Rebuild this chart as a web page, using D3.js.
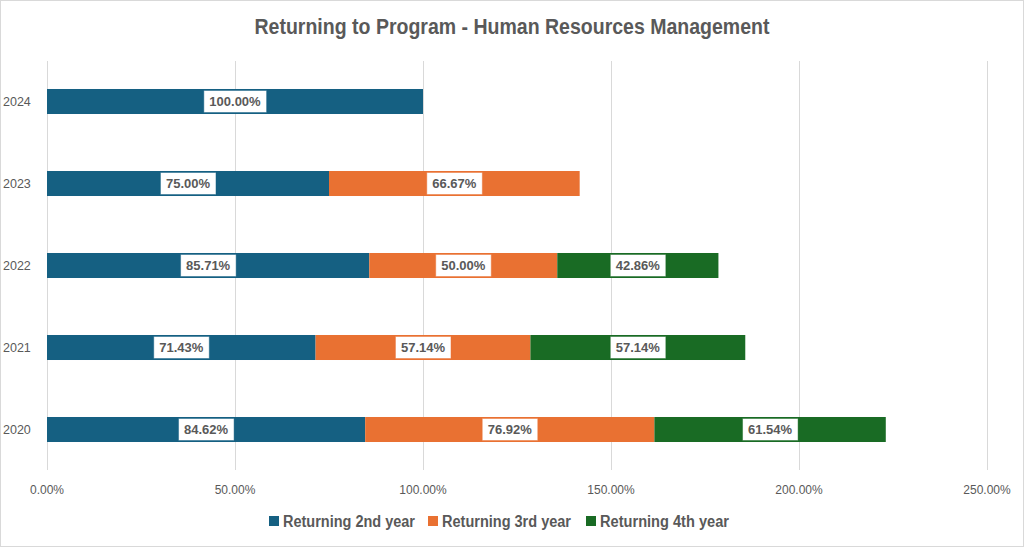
<!DOCTYPE html>
<html>
<head>
<meta charset="utf-8">
<script src="https://cdn.jsdelivr.net/npm/d3@7"></script>
<style>
  body { margin: 0; background: #fff; }
  svg { display: block; }
</style>
</head>
<body>
<div id="chart"></div>
<script>
// data
var years = ["2024", "2023", "2022", "2021", "2020"];
var series = ["Returning 2nd year", "Returning 3rd year", "Returning 4th year"];
var second = [100.00, 75.00, 85.71, 71.43, 84.62];
var third = [null, 66.67, 50.00, 57.14, 76.92];
var fourth = [null, null, 42.86, 57.14, 61.54];
var tickValues = [0, 50, 100, 150, 200, 250];
var colors = ["#156082", "#e97132", "#196b24"];

var W = 1024, H = 547;
var svg = d3.select("#chart").append("svg")
  .attr("width", W)
  .attr("height", H);

svg.append("rect")
  .attr("x", 0.5).attr("y", 0.5)
  .attr("width", W - 1).attr("height", H - 1)
  .attr("fill", "#fff")
  .attr("stroke", "#d9d9d9");

// title, squeezed to look like the narrow office font
svg.append("text")
  .attr("x", 512).attr("y", 34)
  .attr("text-anchor", "middle")
  .attr("font-family", "Liberation Sans, Arial, sans-serif")
  .attr("font-weight", "bold")
  .attr("font-size", 22)
  .attr("textLength", 515)
  .attr("lengthAdjust", "spacingAndGlyphs")
  .attr("fill", "#595959")
  .text("Returning to Program - Human Resources Management");

var x = d3.scaleLinear().domain([0, 250]).range([47, 987]);
var y = d3.scaleBand().domain(years).range([60.5, 470.5]).paddingInner(0.695).paddingOuter(0.3475);

// table for the stack
var rows = years.map(function(yr, i) {
  return { year: yr, s0: second[i] || 0, s1: third[i] || 0, s2: fourth[i] || 0,
           raw: [second[i], third[i], fourth[i]] };
});
var stack = d3.stack().keys(["s0", "s1", "s2"])(rows);

// gridlines
svg.append("g").selectAll("line")
  .data(tickValues)
  .enter().append("line")
  .attr("x1", function(d) { return x(d) + 0.5; })
  .attr("x2", function(d) { return x(d) + 0.5; })
  .attr("y1", 61).attr("y2", 470)
  .attr("stroke", "#d9d9d9")
  .attr("stroke-width", 1);

// x tick labels
svg.append("g").selectAll("text")
  .data(tickValues)
  .enter().append("text")
  .attr("x", function(d) { return x(d); })
  .attr("y", 494)
  .attr("text-anchor", "middle")
  .attr("font-family", "Liberation Sans, Arial, sans-serif")
  .attr("font-size", 12)
  .attr("fill", "#595959")
  .text(function(d) { return d.toFixed(2) + "%"; });

// y labels
svg.append("g").selectAll("text")
  .data(years)
  .enter().append("text")
  .attr("x", 3)
  .attr("y", function(d) { return y(d) + y.bandwidth() / 2 + 4; })
  .attr("font-family", "Liberation Sans, Arial, sans-serif")
  .attr("font-size", 12.5)
  .attr("fill", "#595959")
  .text(function(d) { return d; });

// bars
var layers = svg.append("g").selectAll("g")
  .data(stack)
  .enter().append("g")
  .attr("fill", function(d, i) { return colors[i]; });

layers.selectAll("rect")
  .data(function(d) { return d; })
  .enter().filter(function(d) { return d[1] > d[0]; })
  .append("rect")
  .attr("x", function(d) { return x(d[0]); })
  .attr("y", function(d) { return y(d.data.year); })
  .attr("width", function(d) { return x(d[1]) - x(d[0]); })
  .attr("height", y.bandwidth());

// data labels
stack.forEach(function(layer, i) {
  layer.forEach(function(d) {
    if (d[1] <= d[0]) return;
    var cx = x((d[0] + d[1]) / 2);
    var cy = y(d.data.year) + y.bandwidth() / 2;
    var g = svg.append("g");
    var t = g.append("text")
      .attr("x", cx).attr("y", cy + 4.5)
      .attr("text-anchor", "middle")
      .attr("font-family", "Liberation Sans, Arial, sans-serif")
      .attr("font-weight", "bold")
      .attr("font-size", 13)
      .attr("fill", "#595959")
      .text(d.data.raw[i].toFixed(2) + "%");
    var bb = t.node().getBBox();
    g.insert("rect", "text")
      .attr("x", bb.x - 5.5).attr("y", cy - 11)
      .attr("width", bb.width + 11).attr("height", 22)
      .attr("fill", "#fff")
      .attr("stroke", colors[i])
      .attr("stroke-opacity", 0.45)
      .attr("stroke-width", 1);
  });
});

// legend
var legend = svg.append("g");
var legendX = [269, 428, 586];
var legendW = [132, 129, 129];
series.forEach(function(s, i) {
  legend.append("rect")
    .attr("x", legendX[i]).attr("y", 516)
    .attr("width", 10).attr("height", 10)
    .attr("fill", colors[i]);
  legend.append("text")
    .attr("x", legendX[i] + 14).attr("y", 527)
    .attr("font-family", "Liberation Sans, Arial, sans-serif")
    .attr("font-weight", "bold")
    .attr("font-size", 16)
    .attr("textLength", legendW[i])
    .attr("lengthAdjust", "spacingAndGlyphs")
    .attr("fill", "#595959")
    .text(s);
});
</script>
</body>
</html>
